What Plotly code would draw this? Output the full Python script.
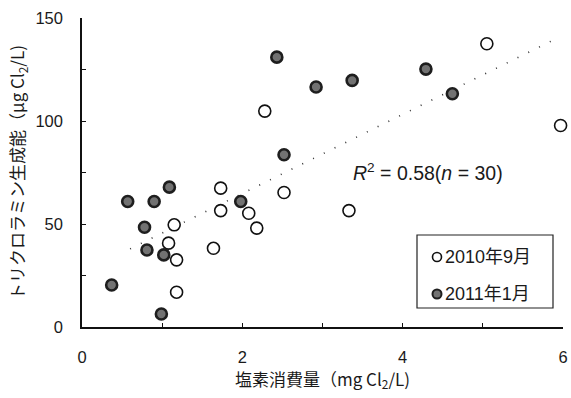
import plotly.graph_objects as go

# Chlorine consumption (mg Cl2/L) vs. trichloramine formation potential (µg Cl2/L)
sep2010_x = [5.05, 2.28, 5.97, 1.73, 1.73, 2.08, 1.15, 1.08, 1.64, 1.18, 1.18, 2.18, 2.52, 3.33]
sep2010_y = [137.5, 104.8, 97.8, 67.4, 56.5, 55.2, 49.6, 40.7, 38.2, 32.6, 16.9, 48.0, 65.3, 56.5]

jan2011_x = [2.43, 2.92, 3.37, 2.52, 4.29, 4.62, 1.09, 0.57, 0.90, 1.98, 0.78, 0.81, 1.02, 0.37, 0.99]
jan2011_y = [131.0, 116.5, 119.7, 83.6, 125.2, 113.2, 67.9, 60.9, 60.9, 60.9, 48.4, 37.4, 35.0, 20.4, 6.3]

series_names = ["2010年9月", "2011年1月"]

# Linear fit drawn across the data range
fit_slope = 19.2
fit_intercept = 26.4
fit_x = [0.6, 5.9]
fit_y = [fit_intercept + fit_slope * v for v in fit_x]

x_tick_vals = [0, 2, 4, 6]
y_tick_vals = [0, 50, 100, 150]

FONT = "Liberation Sans, Arial, Noto Sans CJK JP, sans-serif"
CJK = "Noto Sans CJK JP, Liberation Sans, sans-serif"

W, H = 571, 398
M = dict(l=82, r=8, t=18, b=71)
PW = W - M["l"] - M["r"]
PH = H - M["t"] - M["b"]


def px_to_paper(px, py):
    return (px - M["l"]) / PW, (H - M["b"] - py) / PH


OPEN_STYLE = dict(fill="white", line="#111111", width=1.6)
FILLED_STYLE = dict(fill="#727272", line="#1e1e1e", width=2.6)

fig = go.Figure()

fig.add_trace(go.Scatter(
    x=fit_x, y=fit_y, mode="lines", showlegend=False, hoverinfo="skip",
    line=dict(color="#333333", width=1.6, dash="1px,11px"),
))

fig.add_trace(go.Scatter(
    x=sep2010_x, y=sep2010_y, mode="markers", name=series_names[0],
    showlegend=False, cliponaxis=False,
    marker=dict(symbol="circle", size=12, color=OPEN_STYLE["fill"],
                line=dict(color=OPEN_STYLE["line"], width=OPEN_STYLE["width"])),
))

fig.add_trace(go.Scatter(
    x=jan2011_x, y=jan2011_y, mode="markers", name=series_names[1],
    showlegend=False, cliponaxis=False,
    marker=dict(symbol="circle", size=11, color=FILLED_STYLE["fill"],
                line=dict(color=FILLED_STYLE["line"], width=FILLED_STYLE["width"])),
))

fig.add_annotation(
    x=4.32, y=75.3, xref="x", yref="y", showarrow=False,
    text="<i>R</i><sup>2</sup> = 0.58(<i>n</i> = 30)",
    font=dict(family=FONT, size=19.5, color="#1a1a1a"),
)

# Boxed key in the lower right corner of the plot
bx0, by0 = px_to_paper(417, 308)
bx1, by1 = px_to_paper(553, 235)
fig.add_shape(type="rect", xref="paper", yref="paper",
              x0=bx0, y0=by0, x1=bx1, y1=by1,
              line=dict(color="#222222", width=1.2), fillcolor="white", layer="above")

for name, style, row_y, r in [(series_names[0], OPEN_STYLE, 257, 4.5),
                              (series_names[1], FILLED_STYLE, 294, 4.5)]:
    sx, sy = px_to_paper(437, row_y)
    fig.add_shape(type="circle", xref="paper", yref="paper",
                  xsizemode="pixel", ysizemode="pixel",
                  xanchor=sx, yanchor=sy, x0=-r, x1=r, y0=-r, y1=r,
                  fillcolor=style["fill"],
                  line=dict(color=style["line"], width=min(style["width"], 2.0)),
                  layer="above")
    tx, ty = px_to_paper(443, row_y)
    fig.add_annotation(x=tx, y=ty, xref="paper", yref="paper", showarrow=False,
                       xanchor="left", yanchor="middle", text=name,
                       font=dict(family=FONT, size=18, color="#1a1a1a"))

fig.update_layout(
    width=W, height=H, margin=M,
    paper_bgcolor="white", plot_bgcolor="white",
    font=dict(family=FONT, size=16, color="#1a1a1a"),
    showlegend=False,
)

fig.update_xaxes(
    range=[0, 6], tickvals=x_tick_vals, ticks="inside", ticklen=4,
    tickcolor="#111111", tickwidth=1.2,
    minor=dict(dtick=1, ticks="inside", ticklen=4, tickcolor="#111111"),
    showline=True, linecolor="#111111", linewidth=1.5,
    showgrid=False, zeroline=False, ticklabelstandoff=14, automargin=False,
    tickfont=dict(family=FONT, size=16.5),
    title=dict(text="塩素消費量（mg Cl<sub>2</sub>/L)", standoff=5,
               font=dict(family=CJK, size=17)),
)

fig.update_yaxes(
    range=[0, 150], tickvals=y_tick_vals, ticks="inside", ticklen=4,
    tickcolor="#111111", tickwidth=1.2,
    minor=dict(dtick=25, ticks="inside", ticklen=4, tickcolor="#111111"),
    showline=True, linecolor="#111111", linewidth=1.5,
    showgrid=False, zeroline=False, ticklabelstandoff=14, automargin=False,
    tickfont=dict(family=FONT, size=16.5),
    title=dict(text="トリクロラミン生成能（μg Cl<sub>2</sub>/L)", standoff=6,
               font=dict(family=CJK, size=17)),
)

fig.write_html("out.html")
